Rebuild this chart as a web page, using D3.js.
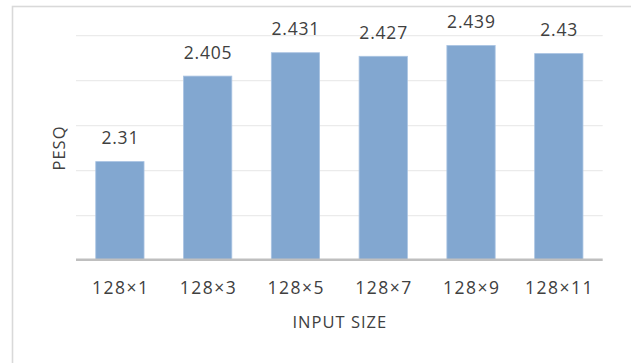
<!DOCTYPE html>
<html>
<head>
<meta charset="utf-8">
<script src="https://cdn.jsdelivr.net/npm/d3@7"></script>
<style>
  html, body { margin: 0; padding: 0; background: #fff; }
  svg { display: block; }
  text { font-family: "Open Sans", Lato, sans-serif; fill: #404040; }
</style>
</head>
<body>
<svg id="chart" width="631" height="363"></svg>
<script>
// PESQ score for each input size
const categories = ["128×1", "128×3", "128×5", "128×7", "128×9", "128×11"];
const pesqValues = [2.31, 2.405, 2.431, 2.427, 2.439, 2.43];
const gridTicks = [2.2, 2.25, 2.3, 2.35, 2.4, 2.45];

const svg = d3.select("#chart");

// chart frame (runs off the right and bottom edges)
svg.append("rect")
  .attr("x", 12.5).attr("y", 6.5)
  .attr("width", 640).attr("height", 380)
  .attr("fill", "#fff")
  .attr("stroke", "#d9d9d9")
  .attr("stroke-width", 1.6);

const plot = { left: 76, right: 602.7, top: 35.6, bottom: 260.6 };

const x = d3.scaleBand()
  .domain(categories)
  .range([plot.left, plot.right])
  .paddingInner(0.45)
  .paddingOuter(0.225);

const y = d3.scaleLinear()
  .domain([2.2, 2.45])
  .range([plot.bottom, plot.top]);

// horizontal gridlines
svg.append("g")
  .selectAll("line")
  .data(gridTicks.slice(1))
  .join("line")
  .attr("x1", plot.left).attr("x2", plot.right)
  .attr("y1", d => y(d)).attr("y2", d => y(d))
  .attr("stroke", "#ebebeb")
  .attr("stroke-width", 1.4);

// bars
svg.append("g")
  .selectAll("rect")
  .data(pesqValues)
  .join("rect")
  .attr("x", (d, i) => x(categories[i]))
  .attr("y", d => y(d))
  .attr("width", x.bandwidth())
  .attr("height", d => y(2.2) - y(d))
  .attr("fill", "#82a7d0")
  .attr("stroke", "#a9c3e2")
  .attr("stroke-width", 0.8);

// category axis line
svg.append("line")
  .attr("x1", plot.left).attr("x2", plot.right)
  .attr("y1", plot.bottom - 0.8).attr("y2", plot.bottom - 0.8)
  .attr("stroke", "#bfbfbf")
  .attr("stroke-width", 2.6);

// value labels
svg.append("g")
  .selectAll("text")
  .data(pesqValues)
  .join("text")
  .attr("x", (d, i) => x(categories[i]) + x.bandwidth() / 2 + 0.4)
  .attr("y", d => y(d) - 17.5)
  .attr("text-anchor", "middle")
  .attr("font-size", 17.5)
  .attr("letter-spacing", 0.8)
  .text(d => d);

// category labels via d3 axis
const xAxis = svg.append("g")
  .attr("transform", `translate(0,${plot.bottom})`)
  .call(d3.axisBottom(x).tickSize(0).tickPadding(21));
xAxis.select(".domain").remove();
xAxis.selectAll("text")
  .attr("font-size", 17.5)
  .attr("font-family", "\"Open Sans\", Lato, sans-serif")
  .attr("letter-spacing", 1.5)
  .attr("dx", 0.75)
  .attr("fill", "#404040");

// axis titles
svg.append("text")
  .attr("x", (plot.left + plot.right) / 2 + 0.5)
  .attr("y", 327.5)
  .attr("text-anchor", "middle")
  .attr("font-size", 16.5)
  .attr("letter-spacing", 1)
  .text("INPUT SIZE");

svg.append("text")
  .attr("transform", "translate(64.5,148) rotate(-90)")
  .attr("text-anchor", "middle")
  .attr("font-size", 16.5)
  .attr("letter-spacing", 1)
  .text("PESQ");
</script>
</body>
</html>
